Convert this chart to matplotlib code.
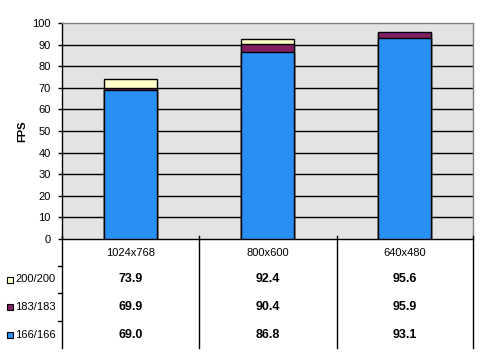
import matplotlib
matplotlib.use("Agg")
import matplotlib.pyplot as plt
from matplotlib.patches import Rectangle

categories = ['1024x768', '800x600', '640x480']
series_names = ['200/200', '183/183', '166/166']
values_200 = [73.9, 92.4, 95.6]
values_183 = [69.9, 90.4, 95.9]
values_166 = [69.0, 86.8, 93.1]
series_values = [values_200, values_183, values_166]
colors = ['#FFFFCC', '#802060', '#2890F2']
yticks = [0, 10, 20, 30, 40, 50, 60, 70, 80, 90, 100]

W, H = 481, 360
fig = plt.figure(figsize=(W / 100, H / 100), dpi=100)
plt.rcParams['font.family'] = ['Liberation Sans', 'DejaVu Sans']

def fx(px):
    return px / W

def fy(py):
    return 1 - py / H

ax_l, ax_r, ax_t, ax_b = 62, 473, 23, 239
ax = fig.add_axes([fx(ax_l), fy(ax_b), fx(ax_r) - fx(ax_l), fy(ax_t) - fy(ax_b)])
ax.set_facecolor('#E3E3E3')

x = list(range(len(categories)))
for vals, col in zip(series_values, colors):
    ax.bar(x, vals, width=0.38, color=col, edgecolor='black', linewidth=1, zorder=3)

ax.set_xlim(-0.5, len(categories) - 0.5)
ax.set_ylim(0, 100)
ax.set_yticks(yticks)
ax.set_yticklabels([str(t) for t in yticks], fontsize=8)
ax.tick_params(axis='y', direction='out', length=3, width=1, pad=5, colors='black')
ax.set_xticks([])
for t in yticks[1:-1]:
    ax.axhline(t, color='black', linewidth=1, zorder=1)
ax.spines['left'].set_color('black')
ax.spines['bottom'].set_color('black')
ax.spines['top'].set_color('#808080')
ax.spines['right'].set_color('#808080')
for s in ax.spines.values():
    s.set_linewidth(1)

fig.text(fx(22), fy(131), 'FPS', rotation=90, ha='center', va='center',
         fontsize=8, fontweight='bold')

# data table below the plot
row_bounds = [239, 266, 293, 321, 348]
col_bounds = [ax_l, 199, 337, ax_r]
for cx in col_bounds:
    fig.add_artist(plt.Line2D([fx(cx), fx(cx)], [fy(236), fy(348)], color='black', linewidth=1))
for ry in row_bounds[1:-1]:
    fig.add_artist(plt.Line2D([fx(58), fx(ax_l)], [fy(ry), fy(ry)], color='black', linewidth=1))

for i, cat in enumerate(categories):
    cxm = (col_bounds[i] + col_bounds[i + 1]) / 2
    fig.text(fx(cxm), fy((row_bounds[0] + row_bounds[1]) / 2 + 1), cat,
             ha='center', va='center', fontsize=8)
    for r, vals in enumerate(series_values):
        cy = (row_bounds[r + 1] + row_bounds[r + 2]) / 2
        fig.text(fx(cxm), fy(cy), f'{vals[i]:.1f}', ha='center', va='center',
                 fontsize=9, fontweight='bold')

for r, (name, col) in enumerate(zip(series_names, colors)):
    cy = (row_bounds[r + 1] + row_bounds[r + 2]) / 2
    fig.add_artist(Rectangle((fx(7), fy(cy + 3)), fx(6), 6 / H, facecolor=col,
                             edgecolor='black', linewidth=0.8))
    fig.text(fx(56), fy(cy), name, ha='right', va='center', fontsize=8)

fig.savefig('out.png', dpi=100, facecolor='white')
